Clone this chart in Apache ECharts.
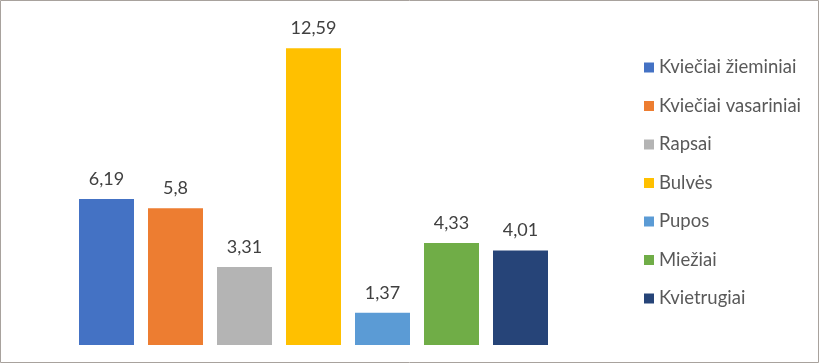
<!DOCTYPE html>
<html>
<head>
<meta charset="utf-8">
<script src="https://cdn.jsdelivr.net/npm/echarts@6/dist/echarts.min.js"></script>
<style>html,body{margin:0;padding:0;background:#fff}#c{width:820px;height:364px}</style>
</head>
<body>
<div id="c"></div>
<script>
const categories = ['Kviečiai žieminiai', 'Kviečiai vasariniai', 'Rapsai', 'Bulvės', 'Pupos', 'Miežiai', 'Kvietrugiai'];
const values = [6.19, 5.8, 3.31, 12.59, 1.37, 4.33, 4.01];
const colors = ['#4472C4', '#ED7D31', '#B4B4B4', '#FFC000', '#5B9BD5', '#70AD47', '#264478'];

const chart = echarts.init(document.getElementById('c'));
const series = categories.map((name, i) => ({
  name: name,
  type: 'bar',
  stack: 'all',
  barWidth: 55,
  itemStyle: { color: colors[i] },
  label: {
    show: true,
    position: 'top',
    distance: 11,
    fontFamily: 'Lato',
    fontSize: 18,
    color: '#404040',
    formatter: p => String(p.value).replace('.', ',')
  },
  data: categories.map((c, j) => (j === i ? values[i] : null))
}));

chart.setOption({
  animation: false,
  grid: { left: 72, width: 483, top: 15, bottom: 19 },
  xAxis: {
    type: 'category',
    data: categories,
    show: false
  },
  yAxis: {
    type: 'value',
    min: 0,
    max: 14,
    show: false
  },
  legend: {
    orient: 'vertical',
    left: 644,
    top: 58,
    padding: 0,
    itemWidth: 10,
    itemHeight: 10,
    itemGap: 19.5,
    icon: 'rect',
    textStyle: { fontFamily: 'Lato', fontSize: 18.5, color: '#595959', lineHeight: 18 },
    data: categories
  },
  graphic: [{
    type: 'rect',
    shape: { x: 0.5, y: 0.5, width: 818, height: 362 },
    style: { fill: 'none', stroke: '#A8A29D', lineWidth: 1 },
    silent: true
  }],
  series: series
});
</script>
</body>
</html>
